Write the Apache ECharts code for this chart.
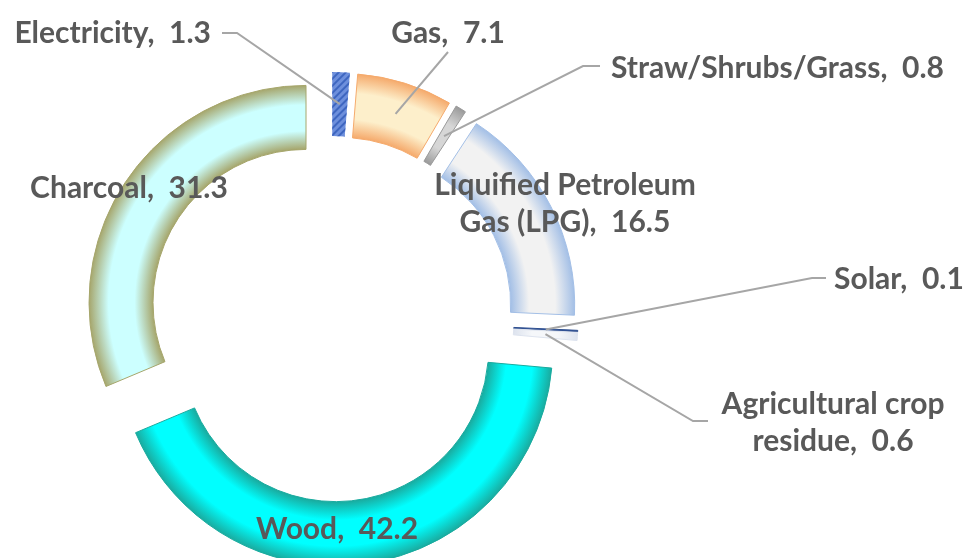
<!DOCTYPE html>
<html>
<head>
<meta charset="utf-8">
<script src="https://cdn.jsdelivr.net/npm/echarts@6/dist/echarts.min.js"></script>
<style>
  html, body { margin: 0; padding: 0; background: #fff; }
  #main { width: 974px; height: 558px; }
</style>
</head>
<body>
<div id="main"></div>
<script>
// energy sources, clockwise from 12 o'clock
const categories = ['Electricity', 'Gas', 'Straw/Shrubs/Grass', 'Liquified Petroleum\nGas (LPG)', 'Solar', 'Agricultural crop\nresidue', 'Wood', 'Charcoal']
const shares = [1.3, 7.1, 0.8, 16.5, 0.1, 0.6, 42.2, 31.3]

// edge / centre colours of the soft ring
const edgeColors = ['#4f74c8', '#f5aa6c', '#9a9a9a', '#a3bfe6', '#2f4f8f', '#dde3ee', '#19ab9f', '#a6a66c']
const midColors = ['#6f91de', '#fdefcb', '#d6d6d6', '#f2f2f2', '#3a5fa8', '#f5f7fa', '#00ffff', '#ccffff']

const CENTER = [331, 319]
const R_IN = 153
const R_OUT = 217
const EXPLODE = 30

// where each label sits, and the elbow of its leader line
const labelPos = [
  { x: 211, y: 33, align: 'right', line: [[237, 33], [222, 33]] },
  { x: 448, y: 33, align: 'center', line: [[448, 52], [448, 52]] },
  { x: 611, y: 68, align: 'left', line: [[583, 66], [600, 66]] },
  { x: 565, y: 204, align: 'center' },
  { x: 834, y: 279, align: 'left', line: [[812, 278], [826, 278]] },
  { x: 833, y: 423, align: 'center', line: [[693, 421], [708, 421]] },
  { x: 337, y: 529, align: 'center' },
  { x: 129, y: 188, align: 'center' }
]

const total = shares.reduce((a, b) => a + b, 0)
const midAngles = []
let acc = 0
shares.forEach(v => {
  midAngles.push((acc + v / 2) / total * Math.PI * 2)
  acc += v
})

function ringFill(edge, mid) {
  return new echarts.graphic.RadialGradient(CENTER[0], CENTER[1], R_OUT, [
    { offset: 0, color: edge },
    { offset: R_IN / R_OUT, color: edge },
    { offset: 0.79, color: mid },
    { offset: 0.91, color: mid },
    { offset: 1, color: edge }
  ], true)
}

const ringData = categories.map((name, i) => {
  const item = {
    name: name,
    value: shares[i],
    selected: true,
    itemStyle: {
      color: ringFill(edgeColors[i], midColors[i]),
      borderColor: edgeColors[i],
      borderWidth: 1
    }
  }
  if (i === 0) {
    item.itemStyle = {
      color: '#6d8fdc',
      borderWidth: 0,
      decal: { symbol: 'rect', symbolSize: 1, color: '#3e66c0', dashArrayX: [1, 0], dashArrayY: [2, 3], rotation: -Math.PI / 4 }
    }
  }
  return item
})

const labelData = categories.map((name, i) => ({
  name: name,
  value: shares[i],
  labelLine: { show: !!labelPos[i].line }
}))

const chart = echarts.init(document.getElementById('main'))
chart.setOption({
  animation: false,
  series: [{
    type: 'pie',
    z: 1,
    center: CENTER,
    radius: [R_IN, R_OUT],
    startAngle: 90,
    clockwise: true,
    selectedMode: 'multiple',
    selectedOffset: EXPLODE,
    silent: true,
    label: { show: false },
    labelLine: { show: false },
    data: ringData
  }, {
    // transparent copy that only carries the labels
    type: 'pie',
    z: 10,
    center: CENTER,
    radius: [R_IN, R_OUT],
    startAngle: 90,
    clockwise: true,
    silent: true,
    avoidLabelOverlap: false,
    itemStyle: { color: 'rgba(0,0,0,0)' },
    label: {
      show: true,
      position: 'outside',
      formatter: '{b},  {c}',
      fontFamily: 'Lato',
      fontWeight: 'bold',
      fontSize: 30,
      lineHeight: 37,
      color: '#595959'
    },
    labelLine: {
      show: true,
      lineStyle: { color: '#a6a6a6', width: 2 }
    },
    labelLayout(params) {
      const i = params.dataIndex
      const p = labelPos[i]
      const res = { x: p.x, y: p.y, align: p.align, verticalAlign: 'middle' }
      if (p.line) {
        const r = (R_IN + R_OUT) / 2 + EXPLODE
        const start = [CENTER[0] + Math.sin(midAngles[i]) * r, CENTER[1] - Math.cos(midAngles[i]) * r]
        res.labelLinePoints = [start, p.line[0], p.line[1]]
      }
      return res
    },
    data: labelData
  }]
})
</script>
</body>
</html>
